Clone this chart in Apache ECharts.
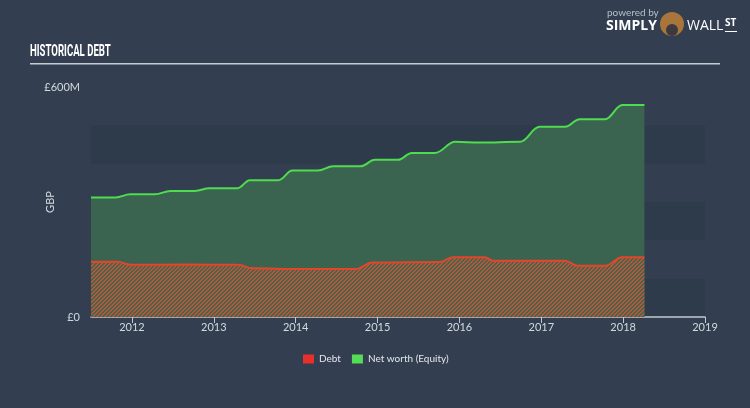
<!DOCTYPE html>
<html>
<head>
<meta charset="utf-8">
<script src="https://cdn.jsdelivr.net/npm/echarts@6/dist/echarts.min.js"></script>
<style>
html,body{margin:0;padding:0;background:#333f50;}
#c{width:750px;height:408px;}
</style>
</head>
<body>
<div id="c"></div>
<script>
// ---- data (GBP millions, x = fractional year) ----
const equityYears = [2011.50, 2011.80, 2011.98, 2012.28, 2012.47, 2012.77, 2012.95, 2013.29, 2013.44, 2013.79, 2013.96, 2014.27, 2014.46, 2014.79, 2014.97, 2015.25, 2015.42, 2015.70, 2015.95, 2016.25, 2016.74, 2016.98, 2017.29, 2017.47, 2017.78, 2017.99, 2018.26];
const equityValues = [312, 312, 320, 320, 329, 329, 336, 336, 357, 357, 382, 382, 393, 393, 410, 410, 428, 428, 457, 455, 457, 496, 496, 516, 516, 553, 553];
const debtYears = [2011.50, 2011.82, 2012.00, 2012.65, 2013.30, 2013.47, 2014.05, 2014.73, 2014.94, 2015.76, 2015.92, 2016.31, 2016.41, 2017.29, 2017.44, 2017.78, 2017.99, 2018.26];
const debtValues = [144, 144, 136, 137, 136, 127, 125, 125, 142, 143.5, 156, 156, 147, 147, 134, 134, 156, 156];
const yearTicks = [2012, 2013, 2014, 2015, 2016, 2017, 2018, 2019];
const yLabelValues = [0, 600];
const seriesNames = ['Debt', 'Net worth (Equity)'];

function pairs(xs, ys){ return xs.map((x,i)=>[x, ys[i]]); }

// hatch pattern for debt area
const pc = document.createElement('canvas');
pc.width = 4; pc.height = 4;
const pctx = pc.getContext('2d');
for (let i=0;i<4;i++) for (let j=0;j<4;j++){
  pctx.fillStyle = ((i + j) % 4 < 2) ? '#b8553a' : '#42664c';
  pctx.fillRect(i, j, 1, 1);
}

const chart = echarts.init(document.getElementById('c'), null, {renderer:'canvas'});
const axisCol = '#c3c9d1';
const txtCol = '#d4d9df';

chart.setOption({
  backgroundColor: '#333f50',
  animation: false,
  grid: {left: 91, right: 45, top: 87, bottom: 91},
  legend: {
    data: seriesNames,
    left: 298, top: 349,
    icon: 'rect', itemWidth: 11, itemHeight: 9, itemGap: 11,
    textStyle: {color: '#e3e7ec', fontSize: 10, fontFamily: 'Lato'}
  },
  xAxis: {
    type: 'value', min: 2011.5, max: 2019,
    axisLine: {show: true, lineStyle: {color: axisCol, width: 1.5}},
    axisTick: {show: true, length: 6, customValues: yearTicks, lineStyle: {color: axisCol, width: 1}},
    axisLabel: {customValues: yearTicks, color: txtCol, fontSize: 11, fontFamily: 'Lato', margin: 5,
      formatter: v => String(Math.round(v))},
    splitLine: {show: false}
  },
  yAxis: {
    type: 'value', min: 0, max: 600, interval: 100,
    name: 'GBP', nameLocation: 'middle', nameGap: 35, nameRotate: 90, nameMoveOverlap: false,
    nameTextStyle: {color: txtCol, fontSize: 11, fontFamily: 'Lato'},
    axisLine: {show: false}, axisTick: {show: false},
    axisLabel: {customValues: yLabelValues, color: txtCol, fontSize: 11, fontFamily: 'Lato', margin: 11,
      formatter: v => v === 0 ? '£0' : '£' + v + 'M'},
    splitLine: {show: false},
    splitArea: {show: true, areaStyle: {color: ['rgba(20,30,45,0.12)', 'rgba(0,0,0,0)']}}
  },
  series: [
    {
      name: seriesNames[1], type: 'line', data: pairs(equityYears, equityValues),
      smooth: 0.4, smoothMonotone: 'x', showSymbol: false, z: 2,
      itemStyle: {color: '#55dd55'},
      lineStyle: {color: '#4fdc4f', width: 2},
      areaStyle: {color: '#3a6450', opacity: 1}
    },
    {
      name: seriesNames[0], type: 'line', data: pairs(debtYears, debtValues),
      smooth: 0.4, smoothMonotone: 'x', showSymbol: false, z: 3,
      itemStyle: {color: '#e5302c'},
      lineStyle: {color: '#e2462a', width: 2},
      areaStyle: {color: {image: pc, repeat: 'repeat'}, opacity: 1}
    }
  ],
  graphic: [
    {type: 'text', x: 30, y: 44, scaleX: 0.6, style: {text: 'HISTORICAL DEBT', fill: '#ffffff', font: 'bold 16px Roboto'}},
    {type: 'rect', shape: {x: 30, y: 63, width: 690, height: 1.5}, style: {fill: '#c5ccd4'}},
    {type: 'text', left: 607, top: 8, style: {text: 'powered by', fill: '#b8bfc8', font: '10px Lato'}},
    {type: 'text', left: 606, top: 19, style: {text: 'SIMPLY', fill: '#ffffff', font: 'bold 14px "Open Sans"'}},
    {type: 'circle', shape: {cx: 672, cy: 24, r: 12}, style: {fill: '#a8753a'}},
    {type: 'circle', shape: {cx: 672, cy: 30, r: 6}, style: {fill: '#3c3a3e'}},
    {type: 'text', left: 687, top: 19, style: {text: 'WALL', fill: '#ffffff', font: '14px "Open Sans"'}},
    {type: 'text', left: 725, top: 18, style: {text: 'ST', fill: '#ffffff', font: 'bold 10px "Open Sans"'}},
    {type: 'rect', shape: {x: 725, y: 31, width: 12, height: 1}, style: {fill: '#ffffff'}}
  ]
});
</script>
</body>
</html>
